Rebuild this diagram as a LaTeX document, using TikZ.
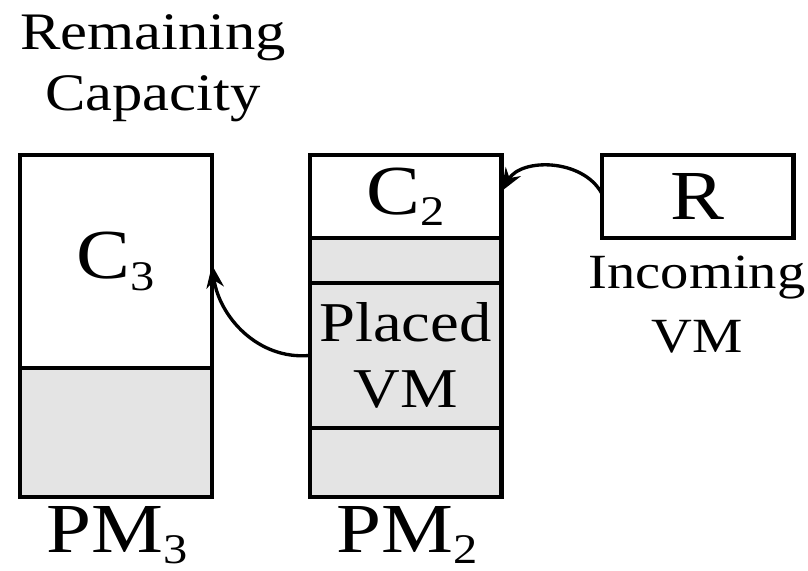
\documentclass[tikz,border=0pt]{standalone}
\usepackage{fontspec}
\setmainfont{Liberation Serif}[FakeStretch=1.15]
\usetikzlibrary{positioning, arrows.meta}
\definecolor{vmgray}{HTML}{E4E4E4}
\newcommand{\lowidx}[1]{\raisebox{-0.16em}{\scalebox{0.6}{#1}}}
\tikzset{
  seg/.style={draw, line width=2.3pt, minimum width=3.84cm, inner sep=0pt, outer sep=0pt,
    font=\fontsize{40}{48}\selectfont},
  used/.style={seg, fill=vmgray},
  conn/.style={line width=1.9pt, -{Stealth[length=13pt, width=10pt]}}
}

\begin{document}
\begin{tikzpicture}[x=0.02cm, y=-0.02cm]
  \useasboundingbox (0,0) rectangle (808,571);
  % PM3
  \node[seg, minimum height=4.26cm] (c3) at (116,261.5) {C\lowidx{3}};
  \node[used, minimum height=2.58cm, below=0pt of c3] (used3) {};
  % PM2
  \node[seg, minimum height=1.66cm] (c2) at (405.5,196.5) {C\lowidx{2}};
  \node[used, minimum height=0.9cm, below=0pt of c2] (used2) {};
  \node[used, minimum height=2.9cm, below=0pt of used2, align=center,
    font=\fontsize{32}{37.5}\selectfont] (placed) {Placed\\VM};
  \node[used, minimum height=1.38cm, below=0pt of placed] (rest2) {};
  % incoming request
  \node[seg, minimum height=1.66cm] (r) at (697.5,196.5) {R};

  \node[align=center, font=\fontsize{30}{35}\selectfont] (remain) at (153,68) {Remaining\\Capacity};
  \node[align=center, font=\fontsize{28}{36.5}\selectfont] (incoming) at (697,305) {Incoming\\VM};
  \node[font=\fontsize{40}{48}\selectfont] (pm3) at (117,535) {PM\lowidx{3}};
  \node[font=\fontsize{40}{48}\selectfont] (pm2) at (407,535) {PM\lowidx{2}};

  \draw[conn] ([yshift=2pt]r.west) to[bend right=60] ([yshift=3pt]c2.east);
  \draw[conn] (placed.west) to[out=185, in=-82] ([yshift=-2pt]c3.east);
\end{tikzpicture}
\end{document}
